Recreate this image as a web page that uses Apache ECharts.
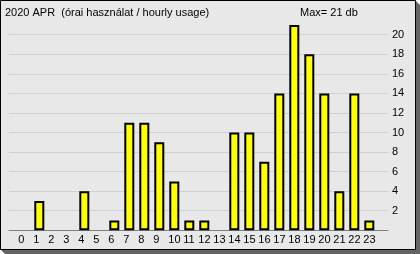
<!DOCTYPE html>
<html><head><meta charset="utf-8">
<script src="https://cdn.jsdelivr.net/npm/echarts@6/dist/echarts.min.js"></script>
<style>html,body{margin:0;padding:0;background:#fff}#c{width:420px;height:254px}</style>
</head><body><div id="c"></div>
<script>
const hours = ['0','1','2','3','4','5','6','7','8','9','10','11','12','13','14','15','16','17','18','19','20','21','22','23'];
const usage = [0,3,0,0,4,0,1,11,11,9,5,1,1,0,10,10,7,14,21,18,14,4,14,1];
const yTicks = [2,4,6,8,10,12,14,16,18,20];
const titleText = '2020 APR  (órai használat / hourly usage)';
const maxText = 'Max= 21 db';

const FONT = 'Liberation Sans, Arial, sans-serif';
const chart = echarts.init(document.getElementById('c'), null, {renderer:'canvas'});
const TOP = 34.7, BOTTOM = 23.7;
chart.setOption({
  animation:false,
  backgroundColor:'#ffffff',
  graphic:[
    {type:'polygon', z:-10, shape:{points:[[415,0],[420,5],[420,254],[5,254],[0,249],[415,249]]}, style:{fill:'#646464'}},
    {type:'rect', z:-9, shape:{x:0.5,y:0.5,width:415,height:249}, style:{fill:'#e8e8e8', stroke:'#000', lineWidth:1}},
    {type:'text', left:5, top:7, style:{text:titleText, font:'11px '+FONT, fill:'#000'}},
    {type:'text', left:300, top:7, style:{text:maxText, font:'11px '+FONT, fill:'#000'}}
  ],
  grid:[
    {left:16.8, right:43.2, top:TOP, bottom:BOTTOM},
    {left:9, right:32, top:TOP, bottom:BOTTOM},
    {left:10.8, right:49.2, top:TOP, bottom:BOTTOM}
  ],
  xAxis:[
    {gridIndex:0, type:'category', data:hours, axisLine:{show:false}, axisTick:{show:false}, axisLabel:{show:false}},
    {gridIndex:1, type:'value', min:0, max:1, axisLine:{show:true, lineStyle:{color:'#808080', width:1}}, axisTick:{show:false}, axisLabel:{show:false}, splitLine:{show:false}},
    {gridIndex:2, type:'category', data:hours, axisLine:{show:false}, axisTick:{show:false},
     axisLabel:{interval:0, align:'left', margin:4, color:'#000', fontFamily:FONT, fontSize:11}}
  ],
  yAxis:[
    {gridIndex:0, type:'value', min:0, max:20, show:false},
    {gridIndex:1, type:'value', min:0, max:20, interval:2, position:'right',
     axisLine:{show:false}, axisTick:{show:false},
     splitLine:{show:true, lineStyle:{color:'#d0d0d0', width:1}},
     axisLabel:{margin:4, color:'#000', fontFamily:FONT, fontSize:11, align:'left',
       formatter:v=> yTicks.indexOf(v) >= 0 ? String(v) : ''}},
    {gridIndex:2, type:'value', min:0, max:20, show:false}
  ],
  series:[{
    type:'bar', xAxisIndex:0, yAxisIndex:0, data:usage.map(v => v === 0 ? '-' : v), barWidth:10, clip:false,
    itemStyle:{color:'#ffff00', borderColor:'#000', borderWidth:2}
  }]
});
</script></body></html>
